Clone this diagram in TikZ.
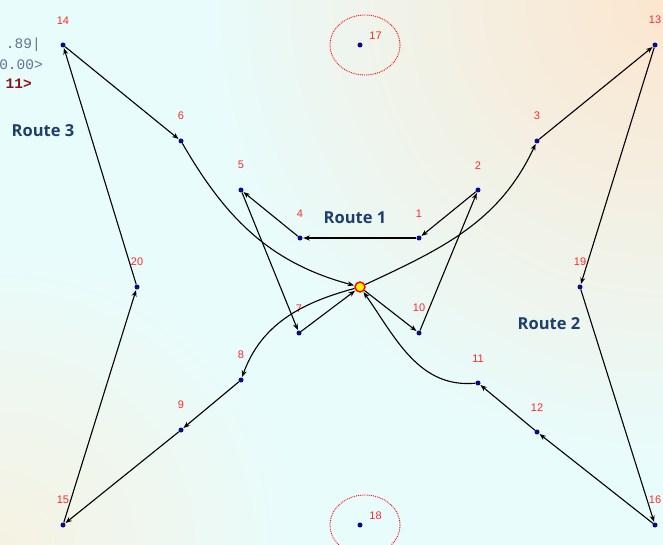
\documentclass[tikz,border=0pt]{standalone}
\usepackage{fontspec}
\setmainfont{Liberation Sans}
\newfontfamily\routefont{Open Sans}
\newfontfamily\codefont{Liberation Mono}
\usepackage{tikz}
\usetikzlibrary{arrows.meta, positioning, calc, shadings}
\definecolor{stopblue}{HTML}{0A0A8C}
\definecolor{numred}{HTML}{FF2A2A}
\definecolor{routeblue}{HTML}{1F3F6B}
\definecolor{codegray}{HTML}{5E7390}
\definecolor{codered}{HTML}{8E1414}
\definecolor{bgcyan}{HTML}{E8FCFC}
\definecolor{bgpeach}{HTML}{FCE6CF}
\definecolor{bgcream}{HTML}{F6F2E2}
\tikzset{
  stopdot/.style={
    circle, fill=stopblue, inner sep=0pt, minimum size=5pt
  },
  depotdot/.style={
    circle, draw=red, fill=yellow, line width=1.4pt,
    inner sep=0pt, minimum size=10pt
  },
  numlbl/.style={
    text=numred, font=\fontsize{11}{12}\selectfont, inner sep=0pt
  },
  routelbl/.style={
    text=routeblue, font=\routefont\fontsize{16.5}{18}\selectfont\bfseries
  },
  routearrow/.style={
    -{Stealth[length=6.5pt, width=5pt]}, line width=1.1pt, black,
    shorten >=0.5pt
  },
  zonering/.style={
    draw=red, densely dotted, line width=0.9pt
  },
  codetxt/.style={
    font=\codefont\fontsize{14.5}{16}\selectfont, anchor=east, inner sep=0pt
  },
}

\begin{document}
\begin{tikzpicture}[x=1pt, y=-1pt, label distance=18pt]
  % Background
  \useasboundingbox (0,0) rectangle (663,545);
  \fill[bgcyan] (0,0) rectangle (663,545);
  \begin{scope}
    \clip (0,0) rectangle (663,545);
    \shade[inner color=bgpeach, outer color=bgcyan] (663,0) circle (470);
    \shade[inner color=bgcream, outer color=bgcyan] (0,545) circle (300);
  \end{scope}

  % Clipped console text at the left edge
  \node[codetxt, text=codegray] (codea) at (41,45) {.89|};
  \node[codetxt, text=codegray] (codeb) at (43,65) {0.00>};
  \node[codetxt, text=codered, font=\codefont\fontsize{14.5}{16}\selectfont\bfseries]
    (codec) at (32,84) {11>};

  % Depot
  \node[depotdot] (depot) at (360,287) {};

  % Customers
  \node[stopdot, label={[numlbl]above:1}]  (n1)  at (419,238) {};
  \node[stopdot, label={[numlbl]above:2}]  (n2)  at (478,190) {};
  \node[stopdot, label={[numlbl]above:3}]  (n3)  at (537,141) {};
  \node[stopdot, label={[numlbl]above:4}]  (n4)  at (300,238) {};
  \node[stopdot, label={[numlbl]above:5}]  (n5)  at (241,190) {};
  \node[stopdot, label={[numlbl]above:6}]  (n6)  at (181,141) {};
  \node[stopdot, label={[numlbl]above:7}]  (n7)  at (299,333) {};
  \node[stopdot, label={[numlbl]above:8}]  (n8)  at (241,380) {};
  \node[stopdot, label={[numlbl]above:9}]  (n9)  at (181,430) {};
  \node[stopdot, label={[numlbl]above:10}] (n10) at (419,333) {};
  \node[stopdot, label={[numlbl]above:11}] (n11) at (478,383) {};
  \node[stopdot, label={[numlbl]above:12}] (n12) at (537,432) {};
  \node[stopdot, label={[numlbl]above:13}] (n13) at (655,45) {};
  \node[stopdot, label={[numlbl]above:14}] (n14) at (63,45) {};
  \node[stopdot, label={[numlbl]above:15}] (n15) at (63,525) {};
  \node[stopdot, label={[numlbl]above:16}] (n16) at (655,525) {};
  \node[stopdot, label={[numlbl, label distance=8pt]30:17}] (n17) at (360,45) {};
  \node[stopdot, label={[numlbl, label distance=8pt]30:18}] (n18) at (360,525) {};
  \node[stopdot, label={[numlbl]above:19}] (n19) at (580,287) {};
  \node[stopdot, label={[numlbl]above:20}] (n20) at (137,287) {};

  % Unserved zones
  \draw[zonering] (n17) ++(5,0) ellipse [x radius=35, y radius=30];
  \draw[zonering] (n18) ++(5,0) ellipse [x radius=35, y radius=30];

  % Route 1
  \draw[routearrow] (depot) -- (n10);
  \draw[routearrow] (n10) -- (n2);
  \draw[routearrow] (n2) -- (n1);
  \draw[routearrow] (n1) -- (n4);
  \draw[routearrow] (n4) -- (n5);
  \draw[routearrow] (n5) -- (n7);
  \draw[routearrow] (n7) -- (depot);

  % Route 2
  \draw[routearrow] (depot) to[out=25, in=-115] (n3);
  \draw[routearrow] (n3) -- (n13);
  \draw[routearrow] (n13) -- (n19);
  \draw[routearrow] (n19) -- (n16);
  \draw[routearrow] (n16) -- (n12);
  \draw[routearrow] (n12) -- (n11);
  \draw[routearrow] (n11) to[out=185, in=-55] (depot);

  % Route 3
  \draw[routearrow] (depot) to[out=195, in=70] (n8);
  \draw[routearrow] (n8) -- (n9);
  \draw[routearrow] (n9) -- (n15);
  \draw[routearrow] (n15) -- (n20);
  \draw[routearrow] (n20) -- (n14);
  \draw[routearrow] (n14) -- (n6);
  \draw[routearrow] (n6) to[out=-60, in=165] (depot);

  % Route names
  \node[routelbl] (r1) at (355,218) {Route 1};
  \node[routelbl] (r2) at (549,324) {Route 2};
  \node[routelbl] (r3) at (43,131) {Route 3};
\end{tikzpicture}
\end{document}
